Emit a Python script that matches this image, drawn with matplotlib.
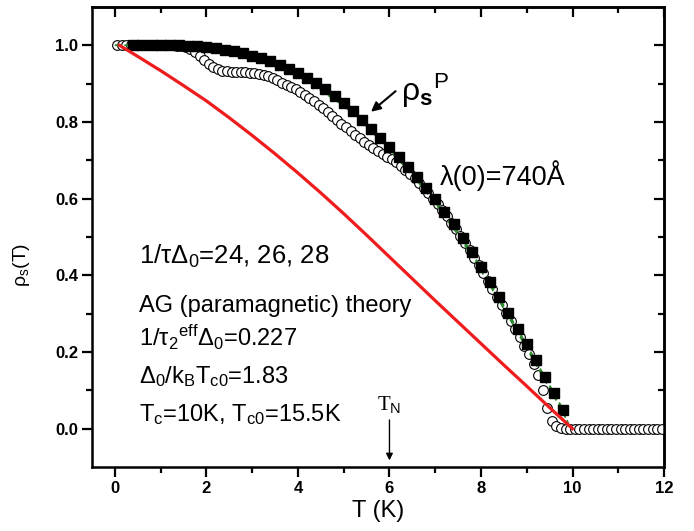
import matplotlib
matplotlib.use("Agg")
import matplotlib.pyplot as plt
import numpy as np

plt.rcParams['font.family'] = ['Liberation Sans', 'DejaVu Sans']
plt.rcParams['mathtext.fontset'] = 'custom'
plt.rcParams['mathtext.rm'] = 'Liberation Sans'
plt.rcParams['mathtext.it'] = 'Liberation Sans'
plt.rcParams['mathtext.bf'] = 'Liberation Sans:bold'
plt.rcParams['mathtext.default'] = 'regular'

# ---- data ----
T_sq = [0.4, 0.6, 0.8, 1.0, 1.2, 1.4, 1.6, 1.8, 2.0, 2.2, 2.4, 2.6, 2.8, 3.0, 3.2, 3.4,
        3.6, 3.8, 4.0, 4.2, 4.4, 4.6, 4.8, 5.0, 5.2, 5.4, 5.6, 5.8, 6.0, 6.2, 6.4, 6.6,
        6.8, 7.0, 7.2, 7.4, 7.6, 7.8, 8.0, 8.2, 8.4, 8.6, 8.8, 9.0, 9.2, 9.4, 9.6, 9.8]
rho_sq = [1.0, 1.0, 1.0, 1.0, 1.0, 1.0, 0.999, 0.997, 0.995, 0.992, 0.988, 0.984, 0.979,
          0.973, 0.966, 0.958, 0.949, 0.938, 0.928, 0.915, 0.901, 0.886, 0.868, 0.849,
          0.828, 0.806, 0.783, 0.759, 0.734, 0.709, 0.683, 0.656, 0.628, 0.598, 0.566,
          0.533, 0.498, 0.461, 0.423, 0.383, 0.343, 0.302, 0.261, 0.220, 0.178, 0.136,
          0.094, 0.048]

T_circ = [0.05, 0.15, 0.25, 0.35, 0.45, 0.55, 0.65, 0.75, 0.85, 0.95,
          1.05, 1.15, 1.25, 1.35, 1.45, 1.55, 1.65, 1.75, 1.85, 1.95,
          2.05, 2.15, 2.25, 2.35, 2.45, 2.55, 2.65, 2.75, 2.85, 2.95,
          3.05, 3.15, 3.25, 3.35, 3.45, 3.55, 3.65, 3.75, 3.85, 3.95,
          4.05, 4.15, 4.25, 4.35, 4.45, 4.55, 4.65, 4.75, 4.85, 4.95,
          5.05, 5.15, 5.25, 5.35, 5.45, 5.55, 5.65, 5.75, 5.85, 5.95,
          6.05, 6.15, 6.25, 6.35, 6.45, 6.55, 6.65, 6.75, 6.85, 6.95,
          7.05, 7.15, 7.25, 7.35, 7.45, 7.55, 7.65, 7.75, 7.85, 7.95,
          8.05, 8.15, 8.25, 8.35, 8.45, 8.55, 8.65, 8.75, 8.85, 8.95,
          9.05, 9.15, 9.25, 9.35, 9.45, 9.55, 9.65, 9.75, 9.85, 9.95,
          10.05, 10.15, 10.25, 10.35, 10.45, 10.55, 10.65, 10.75, 10.85, 10.95,
          11.05, 11.15, 11.25, 11.35, 11.45, 11.55, 11.65, 11.75, 11.85, 11.95]
rho_circ = [1.0, 1.0, 1.0, 1.0, 1.0, 1.0, 1.0, 1.0, 1.0, 1.0,
            1.0, 1.0, 1.0, 0.999, 0.998, 0.995, 0.990, 0.982, 0.972, 0.962,
            0.952, 0.944, 0.938, 0.934, 0.932, 0.931, 0.931, 0.930, 0.930, 0.929,
            0.928, 0.926, 0.923, 0.919, 0.914, 0.909, 0.903, 0.897, 0.891, 0.885,
            0.878, 0.870, 0.862, 0.854, 0.845, 0.836, 0.826, 0.816, 0.806, 0.796,
            0.786, 0.776, 0.766, 0.757, 0.748, 0.740, 0.732, 0.724, 0.717, 0.710,
            0.703, 0.695, 0.686, 0.676, 0.665, 0.653, 0.641, 0.628, 0.614, 0.600,
            0.586, 0.570, 0.554, 0.537, 0.520, 0.502, 0.484, 0.465, 0.446, 0.426,
            0.406, 0.386, 0.365, 0.344, 0.323, 0.302, 0.281, 0.260, 0.238, 0.216,
            0.194, 0.170, 0.140, 0.100, 0.055, 0.020, 0.006, 0.002, 0.0, 0.0,
            0.0, 0.0, 0.0, 0.0, 0.0, 0.0, 0.0, 0.0, 0.0, 0.0,
            0.0, 0.0, 0.0, 0.0, 0.0, 0.0, 0.0, 0.0, 0.0, 0.0]

T_red = [0.1, 0.5, 1.0, 1.5, 2.0, 2.5, 3.0, 3.5, 4.0, 4.5, 5.0, 5.5, 6.0, 6.5, 7.0,
         7.5, 8.0, 8.5, 9.0, 9.5, 10.0]
rho_red = [1.0, 0.971, 0.934, 0.895, 0.855, 0.811, 0.765, 0.717, 0.667, 0.615, 0.561,
           0.505, 0.448, 0.391, 0.334, 0.278, 0.222, 0.166, 0.111, 0.055, 0.0]

T_fit = [0.0, 1.0, 2.0, 3.0, 4.0, 5.0, 5.5, 6.0, 6.5, 7.0, 7.5, 8.0, 8.5, 9.0, 9.5, 9.8, 9.95]
rho_fit24 = [1.0, 1.0, 0.995, 0.973, 0.926, 0.847, 0.794, 0.733, 0.669, 0.597, 0.515,
             0.422, 0.322, 0.219, 0.114, 0.050, 0.0]
rho_fit26 = [1.0, 1.0, 0.995, 0.972, 0.924, 0.845, 0.791, 0.730, 0.665, 0.592, 0.510,
             0.417, 0.317, 0.214, 0.109, 0.045, 0.0]
rho_fit28 = [1.0, 1.0, 0.994, 0.971, 0.922, 0.842, 0.788, 0.727, 0.661, 0.588, 0.505,
             0.412, 0.312, 0.209, 0.104, 0.040, 0.0]

xticks = [0, 2, 4, 6, 8, 10, 12]
yticks = [0.0, 0.2, 0.4, 0.6, 0.8, 1.0]

# ---- figure ----
fig = plt.figure(figsize=(6.94, 5.31), dpi=100)
ax = fig.add_axes([0.1326, 0.1205, 0.8242, 0.8663])

ax.plot(T_circ, rho_circ, 'o', ms=7, mfc='white', mec='black', mew=0.8, ls='none', zorder=2)
for r in (rho_fit24, rho_fit26, rho_fit28):
    ax.plot(T_fit, r, ls=(0, (4, 3)), color='#2a8a2a', lw=1.0, zorder=3)
ax.plot(T_sq, rho_sq, 's', ms=7, color='black', ls='none', zorder=4)
ax.plot(T_red, rho_red, '-', color='#ee1c1c', lw=2.3, zorder=5)

ax.set_xlim(-0.5, 12)
ax.set_ylim(-0.1, 1.1)
ax.set_xticks(xticks)
ax.set_yticks(yticks)
ax.set_xticklabels([str(t) for t in xticks], fontsize=12, fontweight='bold')
ax.set_yticklabels(['%.1f' % t for t in yticks], fontsize=12, fontweight='bold')
ax.set_xticks(np.array(xticks[:-1]) + 1, minor=True)
ax.set_yticks(np.array(yticks[:-1]) + 0.1, minor=True)

for s in ax.spines.values():
    s.set_linewidth(1.8)

# bottom/left outward, top/right inward
ax.tick_params(which='major', direction='out', length=7, width=1.6, bottom=True, left=True,
               top=False, right=False, pad=3)
ax.tick_params(which='minor', direction='out', length=4, width=1.6, bottom=True, left=True,
               top=False, right=False)
sec_x = ax.secondary_xaxis('top')
sec_x.set_xticks(xticks)
sec_x.set_xticks(np.array(xticks[:-1]) + 1, minor=True)
sec_x.tick_params(which='major', direction='in', length=7, width=1.6, labeltop=False)
sec_x.tick_params(which='minor', direction='in', length=4, width=1.6)
sec_x.spines['top'].set_linewidth(1.8)
sec_y = ax.secondary_yaxis('right')
sec_y.set_yticks(yticks)
sec_y.set_yticks(np.array(yticks[:-1]) + 0.1, minor=True)
sec_y.tick_params(which='major', direction='in', length=7, width=1.6, labelright=False)
sec_y.tick_params(which='minor', direction='in', length=4, width=1.6)
sec_y.spines['right'].set_linewidth(1.8)

ax.set_xlabel('T (K)', fontsize=17, labelpad=3)
ax.set_ylabel(r'ρ$_s$(T)', fontsize=14)
ax.yaxis.set_label_coords(-0.105, 0.44)

# annotations
ax.text(0.52, 0.43, r'1/τΔ$_0$=24, 26, 28', fontsize=18.5)
ax.text(0.52, 0.305, 'AG (paramagnetic) theory', fontsize=17)
ax.text(0.52, 0.215, r'1/τ$_2$$^{eff}$Δ$_0$=0.227', fontsize=17)
ax.text(0.52, 0.12, r'Δ$_0$/k$_B$T$_{c0}$=1.83', fontsize=17)
ax.text(0.52, 0.02, r'T$_c$=10K, T$_{c0}$=15.5K', fontsize=17)
ax.text(7.1, 0.635, 'λ(0)=740Å', fontsize=19.5)
ax.text(6.25, 0.855, r'ρ$_{\mathbf{s}}$$^{\mathrm{P}}$', fontsize=23)
ax.annotate('', xy=(5.55, 0.822), xytext=(6.18, 0.885),
            arrowprops=dict(arrowstyle='-|>', color='black', lw=1.5, mutation_scale=14))
ax.text(6.0, 0.05, r'T$_\mathrm{N}$', fontsize=15, family='Liberation Serif', ha='center')
ax.annotate('', xy=(6.0, -0.09), xytext=(6.0, 0.03),
            arrowprops=dict(arrowstyle='-|>', color='black', lw=1.0, mutation_scale=10))

fig.savefig('out.png', dpi=100)
